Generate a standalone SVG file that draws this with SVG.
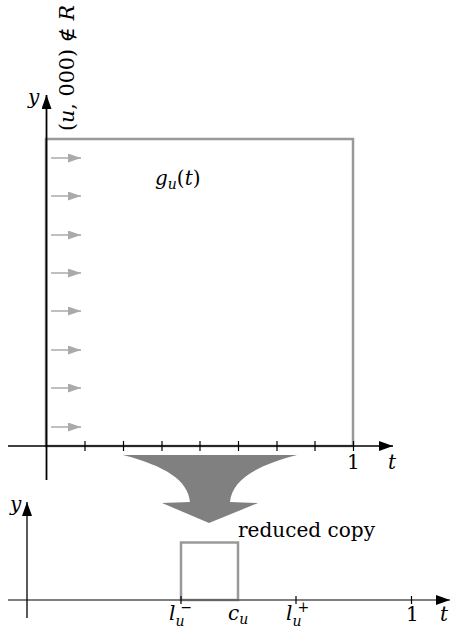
<svg xmlns="http://www.w3.org/2000/svg" width="455" height="630" viewBox="0 0 455 630">
<style>
.axis{stroke:#000;stroke-width:1.3;fill:none}
.tick{stroke:#000;stroke-width:1.2}
.box{fill:none;stroke:#999;stroke-width:2.5}
.flow{stroke:#aaa;stroke-width:1.5;fill:none}
.m{font-family:"DejaVu Serif","Liberation Serif","Times New Roman",serif;font-style:italic;font-size:20px;fill:#000}
.r{font-family:"DejaVu Serif","Liberation Serif","Times New Roman",serif;font-size:20px;fill:#000}
.sub{font-size:14px}
</style>
<defs>
<marker id="ah" viewBox="0 0 14 10" refX="14" refY="5" markerWidth="14" markerHeight="10" markerUnits="userSpaceOnUse" orient="auto">
<path d="M0,0 L14,5 L0,10 Z" fill="#000"/>
</marker>
<marker id="gh" viewBox="0 0 13 9" refX="13" refY="4.5" markerWidth="13" markerHeight="9" markerUnits="userSpaceOnUse" orient="auto">
<path d="M0,0 L13,4.5 L0,9 Z" fill="#aaa"/>
</marker>
</defs>

<g id="top-plot">
<rect class="box" x="46" y="139" width="307" height="307"/>
<line class="axis" x1="8" y1="446" x2="393" y2="446" marker-end="url(#ah)"/>
<line class="axis" x1="46.5" y1="480" x2="46.5" y2="95" marker-end="url(#ah)" style="stroke-width:1.8"/>
<g class="tick">
<line x1="85" y1="441" x2="85" y2="451"/>
<line x1="123.5" y1="441" x2="123.5" y2="451"/>
<line x1="162" y1="441" x2="162" y2="451"/>
<line x1="200" y1="441" x2="200" y2="451"/>
<line x1="238.5" y1="441" x2="238.5" y2="451"/>
<line x1="277" y1="441" x2="277" y2="451"/>
<line x1="315" y1="441" x2="315" y2="451"/>
<line x1="353.5" y1="441" x2="353.5" y2="451"/>
</g>
<g id="flow-arrows">
<line class="flow" x1="51" y1="158" x2="81" y2="158" marker-end="url(#gh)"/>
<line class="flow" x1="51" y1="196" x2="81" y2="196" marker-end="url(#gh)"/>
<line class="flow" x1="51" y1="235" x2="81" y2="235" marker-end="url(#gh)"/>
<line class="flow" x1="51" y1="273" x2="81" y2="273" marker-end="url(#gh)"/>
<line class="flow" x1="51" y1="311" x2="81" y2="311" marker-end="url(#gh)"/>
<line class="flow" x1="51" y1="350" x2="81" y2="350" marker-end="url(#gh)"/>
<line class="flow" x1="51" y1="388" x2="81" y2="388" marker-end="url(#gh)"/>
<line class="flow" x1="51" y1="427" x2="81" y2="427" marker-end="url(#gh)"/>
</g>
<text class="m" x="155" y="185" font-size="21">g<tspan class="sub" dy="4">u</tspan><tspan dy="-4" style="font-style:normal">(</tspan>t<tspan style="font-style:normal">)</tspan></text>
<text class="m" x="28" y="104">y</text>
<text class="r" x="347" y="469">1</text>
<text class="m" x="388" y="469">t</text>
<text class="r" transform="translate(74,131) rotate(-90)" textLength="126" lengthAdjust="spacingAndGlyphs">(<tspan style="font-style:italic">u</tspan>, 000) ∉ <tspan style="font-style:italic">R</tspan></text>
</g>

<g id="reduce-arrow">
<path d="M123,455 L297,455 C255,466 232,480 230,502 L258,503 L209,523 L162,503 L190,502 C188,480 165,466 123,455 Z" fill="#808080"/>
</g>

<g id="bottom-plot">
<rect class="box" x="181" y="542.5" width="57" height="57.5"/>
<line class="axis" x1="8" y1="600" x2="450" y2="600" marker-end="url(#ah)" style="stroke:#555;stroke-width:1.6"/>
<line class="axis" x1="27" y1="618" x2="27" y2="502" marker-end="url(#ah)"/>
<g class="tick">
<line x1="181" y1="596" x2="181" y2="604"/>
<line x1="296" y1="596" x2="296" y2="604"/>
<line x1="411.5" y1="596" x2="411.5" y2="604"/>
</g>
<text class="m" x="10" y="511">y</text>
<text class="r" x="238" y="537" textLength="137" lengthAdjust="spacingAndGlyphs">reduced copy</text>
<text class="m" x="169" y="620">l<tspan class="sub" dy="6">u</tspan><tspan class="sub" style="font-style:normal" dx="-4" dy="-14">−</tspan></text>
<text class="m" x="228" y="620">c<tspan class="sub" dy="4">u</tspan></text>
<text class="m" x="286" y="620">l<tspan class="sub" dy="6">u</tspan><tspan class="sub" style="font-style:normal" dx="-4" dy="-14">+</tspan></text>
<text class="r" x="406" y="621">1</text>
<text class="m" x="440" y="621">t</text>
</g>
</svg>
